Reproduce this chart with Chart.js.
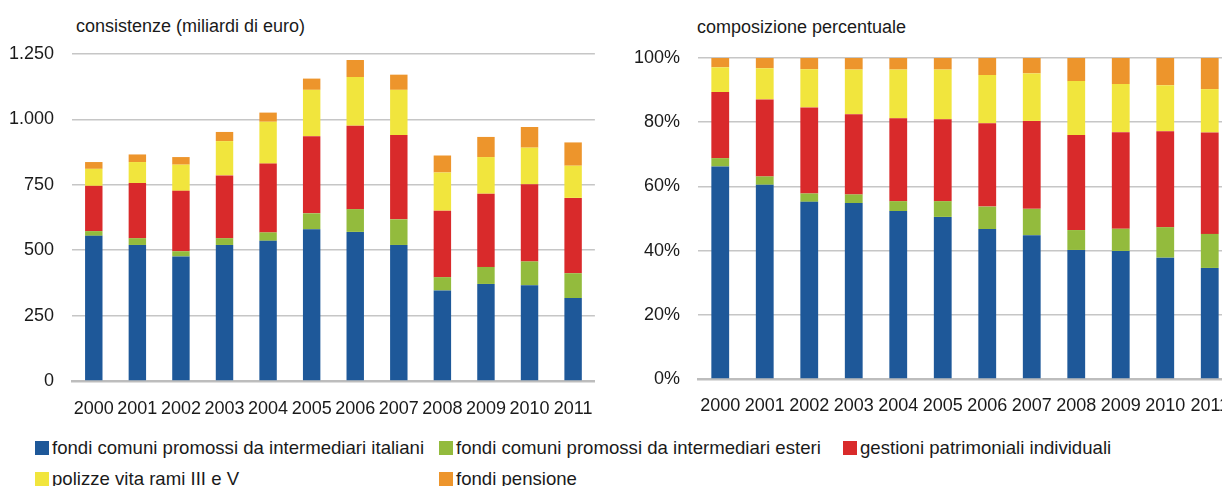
<!DOCTYPE html>
<html lang="it">
<head>
<meta charset="utf-8">
<script src="https://cdn.jsdelivr.net/npm/chart.js@4"></script>
<style>
  html, body { margin: 0; padding: 0; background: #fff; }
  body { width: 1222px; height: 486px; overflow: hidden; position: relative;
         font-family: "Liberation Sans", Arial, sans-serif; color: #1a1a1a; }
  canvas { position: absolute; top: 0; }
  #cLeft { left: 0; }
  #cRight { left: 620px; }
  .title { position: absolute; font-size: 18px; line-height: 20px; white-space: nowrap; }
  .legend-item { position: absolute; font-size: 18.6px; line-height: 20px; white-space: nowrap; }
  .legend-item .sw { position: absolute; left: 0; top: 3px; width: 14px; height: 14px; }
  .legend-item .tx { position: absolute; left: 17px; top: 0; }
</style>
</head>
<body>
<div class="title" style="left:76px; top:16px;">consistenze (miliardi di euro)</div>
<div class="title" style="left:697px; top:17px;">composizione percentuale</div>
<canvas id="cLeft" width="610" height="430"></canvas>
<canvas id="cRight" width="640" height="430"></canvas>
<div id="legend"></div>
<script>
// Years on the category axis
const years = ['2000','2001','2002','2003','2004','2005','2006','2007','2008','2009','2010','2011'];

// Series names
const seriesNames = [
  'fondi comuni promossi da intermediari italiani',
  'fondi comuni promossi da intermediari esteri',
  'gestioni patrimoniali individuali',
  'polizze vita rami III e V',
  'fondi pensione'
];
const seriesColors = ['#1e5899', '#93bb3d', '#d92a2b', '#f1e53d', '#ed952c'];

// Stock amounts, billions of euro
const fondiItaliani   = [555, 520, 476, 520, 536, 580, 570, 520, 346, 371, 366, 317];
const fondiEsteri     = [18, 26, 20, 26, 32, 61, 87, 98, 51, 65, 91, 95];
const gestioni        = [173, 211, 231, 240, 263, 295, 319, 322, 254, 280, 295, 288];
const polizze         = [65, 80, 100, 131, 160, 177, 186, 173, 146, 140, 140, 123];
const fondiPensione   = [26, 29, 29, 35, 35, 43, 65, 58, 65, 77, 79, 89];

// Percentage composition
const pctItaliani  = [66.2, 60.5, 55.2, 54.8, 52.3, 50.5, 46.7, 44.8, 40.2, 39.9, 37.8, 34.6];
const pctEsteri    = [2.6, 2.6, 2.6, 2.7, 3.1, 4.9, 7.0, 8.2, 6.2, 6.9, 9.5, 10.6];
const pctGestioni  = [20.6, 24.0, 26.8, 25.0, 25.8, 25.5, 26.0, 27.4, 29.6, 30.1, 29.9, 31.6];
const pctPolizze   = [7.7, 9.7, 11.9, 13.9, 15.2, 15.5, 15.0, 14.8, 16.8, 15.0, 14.3, 13.5];
const pctPensione  = [2.9, 3.2, 3.5, 3.6, 3.6, 3.6, 5.3, 4.8, 7.2, 8.1, 8.5, 9.7];

// Tick labels
const leftTickLabels  = ['0', '250', '500', '750', '1.000', '1.250'];
const rightTickLabels = ['0%', '20%', '40%', '60%', '80%', '100%'];

const tickFont = { family: '"Liberation Sans", Arial, sans-serif', size: 18 };
const textColor = '#1a1a1a';
const gridColor = '#c6c6c6';

function makeDatasets(arrays) {
  return arrays.map((data, i) => ({
    label: seriesNames[i],
    data: data,
    backgroundColor: seriesColors[i],
    borderWidth: 0,
    barPercentage: 0.4,
    categoryPercentage: 1.0
  }));
}

function makeChart(canvasId, datasets, opts) {
  return new Chart(document.getElementById(canvasId), {
    type: 'bar',
    data: { labels: years, datasets: datasets },
    options: {
      responsive: false,
      animation: false,
      devicePixelRatio: 1,
      layout: { padding: { top: opts.padTop, right: opts.padRight, bottom: 0, left: 0 } },
      plugins: { legend: { display: false }, tooltip: { enabled: false }, title: { display: false } },
      scales: {
        x: {
          stacked: true,
          grid: { display: false, drawTicks: false },
          border: { display: true, color: '#bdbdbd', width: 2.5 },
          ticks: { font: tickFont, color: textColor, padding: opts.xPad, maxRotation: 0, autoSkip: false },
          afterFit: (s) => { s.height = opts.xHeight; }
        },
        y: {
          stacked: true,
          min: 0,
          max: opts.max,
          grid: { color: gridColor, lineWidth: 1.5, drawTicks: false },
          border: { display: false },
          ticks: {
            stepSize: opts.step,
            font: tickFont,
            color: textColor,
            padding: opts.yPad,
            callback: (v, i) => opts.tickLabels[i]
          },
          afterFit: (s) => { s.width = opts.yWidth; }
        }
      }
    }
  });
}

makeChart('cLeft',
  makeDatasets([fondiItaliani, fondiEsteri, gestioni, polizze, fondiPensione]),
  { padTop: 54, padRight: 13, xHeight: 49, xPad: 17, yWidth: 72, yPad: 18,
    max: 1250, step: 250, tickLabels: leftTickLabels });

makeChart('cRight',
  makeDatasets([pctItaliani, pctEsteri, pctGestioni, pctPolizze, pctPensione]),
  { padTop: 58, padRight: 28, xHeight: 51, xPad: 16, yWidth: 78, yPad: 18,
    max: 100, step: 20, tickLabels: rightTickLabels });

// Legend laid out in a fixed three-column grid
const legendPos = [[35, 438], [439, 438], [843, 438], [35, 469], [439, 469]];
const legend = document.getElementById('legend');
seriesNames.forEach((name, i) => {
  const item = document.createElement('div');
  item.className = 'legend-item';
  item.style.left = legendPos[i][0] + 'px';
  item.style.top = legendPos[i][1] + 'px';
  const sw = document.createElement('span');
  sw.className = 'sw';
  sw.style.background = seriesColors[i];
  const tx = document.createElement('span');
  tx.className = 'tx';
  tx.textContent = name;
  item.appendChild(sw);
  item.appendChild(tx);
  legend.appendChild(item);
});
</script>
</body>
</html>
